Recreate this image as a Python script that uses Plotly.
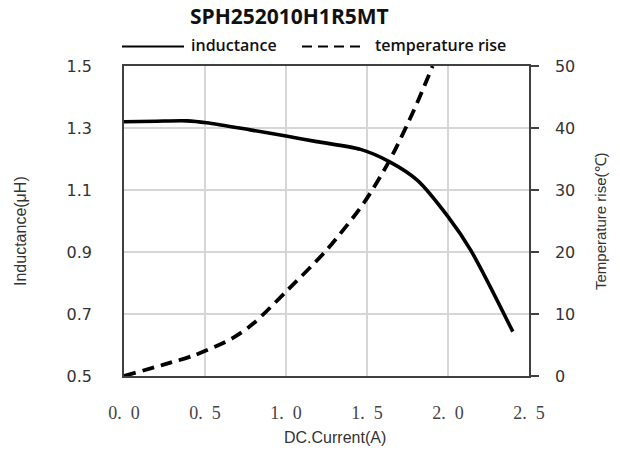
import plotly.graph_objects as go

# ---- data ----
current_L = [0.0, 0.2, 0.39, 0.51, 0.78, 1.0, 1.19, 1.46, 1.64, 1.81, 2.0, 2.14, 2.40]
inductance = [1.32, 1.322, 1.323, 1.317, 1.294, 1.274, 1.256, 1.231, 1.191, 1.132, 1.014, 0.906, 0.643]

current_T = [0.0, 0.24, 0.44, 0.67, 0.80, 1.0, 1.25, 1.48, 1.64, 1.79, 1.905]
temp_rise = [0.0, 1.8, 3.4, 6.1, 8.5, 13.6, 20.3, 27.9, 34.8, 42.9, 50.0]

x_ticks = [0.0, 0.5, 1.0, 1.5, 2.0, 2.5]
x_ticktext = ["0.\u00a0\u00a00", "0.\u00a0\u00a05", "1.\u00a0\u00a00", "1.\u00a0\u00a05", "2.\u00a0\u00a00", "2.\u00a0\u00a05"]
y_ticks = [0.5, 0.7, 0.9, 1.1, 1.3, 1.5]
y2_ticks = [0, 10, 20, 30, 40, 50]

title_text = "SPH252010H1R5MT"
series_names = ["inductance", "temperature rise"]

W, H = 620, 452
L_M, R_M, T_M, B_M = 124, 91, 66, 76
pw = W - L_M - R_M
ph = H - T_M - B_M

def px(x):
    return (x - L_M) / pw

def py(y):
    return (H - B_M - y) / ph

axis_col = "#404040"
grid_col = "#d6d6d6"
txt_col = "#333333"

fig = go.Figure()
fig.add_trace(go.Scatter(x=current_L, y=inductance, mode="lines", name=series_names[0],
                         line=dict(color="black", width=3.6, shape="spline", smoothing=0.8),
                         showlegend=False))
fig.add_trace(go.Scatter(x=current_T, y=temp_rise, mode="lines", name=series_names[1], yaxis="y2",
                         line=dict(color="black", width=3.8, dash="12px,7px", shape="spline", smoothing=0.8),
                         showlegend=False, cliponaxis=True))

shapes = [
    dict(type="line", xref="paper", yref="paper", x0=px(122), x1=px(184), y0=py(46.5), y1=py(46.5),
         line=dict(color="black", width=2)),
    dict(type="line", xref="paper", yref="paper", x0=px(302), x1=px(361), y0=py(46.5), y1=py(46.5),
         line=dict(color="black", width=2, dash="10px,6px")),
]

annotations = [
    dict(text=series_names[0], xref="paper", yref="paper", x=px(189), y=py(45), xanchor="left", yanchor="middle",
         showarrow=False, font=dict(family="Open Sans", size=16, weight=600, color="#111")),
    dict(text=series_names[1], xref="paper", yref="paper", x=px(373), y=py(45), xanchor="left", yanchor="middle",
         showarrow=False, font=dict(family="Open Sans", size=16, weight=600, color="#111")),
    dict(text="Inductance(\u03bcH)", xref="paper", yref="paper", x=px(20), y=py(231), textangle=-90,
         xanchor="center", yanchor="middle", showarrow=False,
         font=dict(family="Liberation Sans", size=16, color=txt_col)),
    dict(text="Temperature rise(\u2103)", xref="paper", yref="paper", x=px(600), y=py(221), textangle=-90,
         xanchor="center", yanchor="middle", showarrow=False,
         font=dict(family="Liberation Sans", size=15, color=txt_col)),
    dict(text="DC.Current(A)", xref="paper", yref="paper", x=px(335), y=py(437),
         xanchor="center", yanchor="middle", showarrow=False,
         font=dict(family="Liberation Sans", size=16, color=txt_col)),
]

fig.update_layout(
    width=W, height=H,
    margin=dict(l=L_M, r=R_M, t=T_M, b=B_M),
    paper_bgcolor="white", plot_bgcolor="white",
    title=dict(text="<b>" + title_text + "</b>", x=px(313), xanchor="center", y=1 - 17 / H, yanchor="middle",
               font=dict(family="Open Sans", size=21, color="#111")),
    showlegend=False,
    shapes=shapes,
    annotations=annotations,
    xaxis=dict(range=[0, 2.5], tickvals=x_ticks, ticktext=x_ticktext, showgrid=True, gridcolor=grid_col,
               gridwidth=1.5, showline=True, linecolor=axis_col, linewidth=1.5, mirror=True, ticks="",
               zeroline=False, ticklabelstandoff=20,
               tickfont=dict(family="Liberation Serif", size=18, color="#444")),
    yaxis=dict(range=[0.5, 1.5], tickvals=y_ticks, tickformat=".1f", showgrid=True, gridcolor=grid_col,
               gridwidth=1.5, showline=True, linecolor=axis_col, linewidth=1.5, ticks="", zeroline=False,
               ticklabelstandoff=27, tickfont=dict(family="DejaVu Sans", size=16, color=txt_col)),
    yaxis2=dict(range=[0, 50], tickvals=y2_ticks, overlaying="y", side="right", showgrid=False,
                showline=True, linecolor=axis_col, linewidth=1.5, ticks="outside", ticklen=8,
                tickcolor=axis_col, tickwidth=1.5, zeroline=False, ticklabelstandoff=13,
                tickfont=dict(family="DejaVu Sans", size=16, color=txt_col)),
)

fig.write_html("out.html", config={"displayModeBar": False},
               post_script="document.body.style.margin='0';document.body.style.overflow='hidden';")
